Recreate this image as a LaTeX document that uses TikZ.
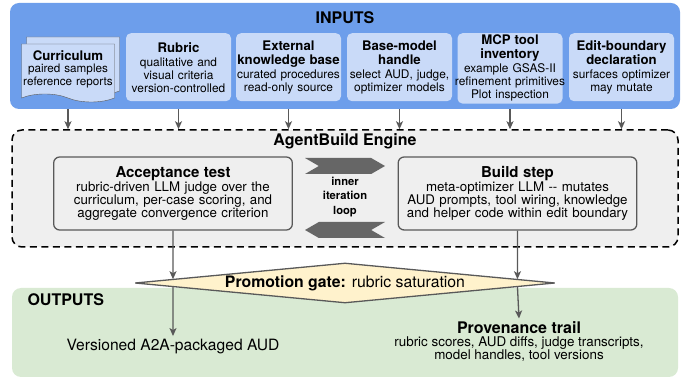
\documentclass[tikz,border=0pt]{standalone}
\usepackage{fontspec}
\setmainfont{TeX Gyre Heros}
\usepackage{tikz}
\usetikzlibrary{arrows.meta,shapes.geometric,shapes.symbols,shadows,calc}
\definecolor{inPanel}{HTML}{6D9EEB}
\definecolor{inCardFill}{HTML}{C9DAF8}
\definecolor{engFill}{HTML}{EFEFEF}
\definecolor{outPanel}{HTML}{D9EAD3}
\definecolor{gateFill}{HTML}{FFF2CC}
\definecolor{wire}{HTML}{595959}
\definecolor{loopGray}{HTML}{666666}
\newcommand{\cardtitle}{\fontsize{13.2}{14}\selectfont\bfseries}

\begin{document}
\begin{tikzpicture}[x=1pt, y=-1pt,
    panelTitle/.style={font=\fontsize{16}{18}\selectfont\bfseries},
    inCard/.style={fill=inCardFill, rounded corners=5pt, align=center, text width=105pt, minimum height=68pt, inner xsep=0pt, inner ysep=2pt, anchor=north, font=\fontsize{11.9}{13}\selectfont},
    docCard/.style={shape=tape, tape bend top=none, tape bend bottom=out and in, tape bend height=8pt, draw=wire, fill=inCardFill, align=center, text width=92pt, minimum height=58pt, inner sep=0.5pt, font=\fontsize{11.7}{12.6}\selectfont, copy shadow={shadow xshift=5pt, shadow yshift=7pt}},
    engCard/.style={draw=wire, fill=engFill, line width=1.3pt, rounded corners=6pt, text width=232pt, minimum height=73pt, align=center, font=\fontsize{13.3}{12.7}\selectfont},
    loopArrow/.style={signal, fill=loopGray, minimum width=80pt, minimum height=16pt, signal pointer angle=60, inner sep=0pt},
    flowArrow/.style={-{Stealth[length=8pt, width=7pt, inset=2pt]}, line width=1.3pt, draw=wire}
]
    \useasboundingbox (0,0) rectangle (694,379);

    % Pannelli
    \node[fill=inPanel, rounded corners=9pt, minimum width=670pt, minimum height=106pt] (inputs) at (345,56) {};
    \node[panelTitle] (inTitle) at (345,18) {INPUTS};
    \node[draw=black, dash pattern=on 7pt off 4.5pt, line width=1.5pt, fill=engFill, rounded corners=10pt, minimum width=666pt, minimum height=117pt] (engine) at (345,188.5) {};
    \node[panelTitle] (engTitle) at (345,141) {AgentBuild Engine};
    \node[fill=outPanel, rounded corners=9pt, minimum width=666pt, minimum height=89pt] (outputs) at (345,332.5) {};
    \node[panelTitle, anchor=west] (outTitle) at (24,300) {OUTPUTS};

    % Input
    \node[docCard] (curric) at (68,69) {{\cardtitle Curriculum}\\ paired samples\\ reference reports};
    \node[inCard] (rubric) at (178.5,33) {{\cardtitle Rubric}\\[1pt] qualitative and\\ visual criteria\\ version-controlled};
    \node[inCard] (extkb) at (288.5,33) {{\cardtitle External\\[1pt] knowledge base}\\[1pt] curated procedures\\ read-only source};
    \node[inCard] (basemodel) at (399.5,33) {{\cardtitle Base-model\\[1pt] handle}\\[1pt] select AUD, judge,\\ optimizer models};
    \node[inCard] (mcp) at (510,33) {{\cardtitle MCP tool\\[1pt] inventory}\\[1pt] example GSAS-II\\ \makebox[105pt][c]{refinement primitives}\\ Plot inspection};
    \node[inCard] (editb) at (621.5,33) {{\cardtitle Edit-boundary\\[1pt] declaration}\\[1pt] surfaces optimizer\\ may mutate};

    \foreach \src in {curric,rubric,extkb,basemodel,mcp,editb}
        \draw[flowArrow] (\src.south |- inputs.south) -- (\src.south |- engine.north);

    % Motore
    \node[engCard] (accept) at (173,193.5) {{\fontsize{15}{14}\selectfont\bfseries Acceptance test}\\ rubric-driven LLM judge over the\\ curriculum, per-case scoring, and\\ aggregate convergence criterion};
    \node[engCard] (build) at (517.5,193.5) {{\fontsize{15}{14}\selectfont\bfseries Build step}\\ meta-optimizer LLM -{}- mutates\\ AUD prompts, tool wiring, knowledge\\ and helper code within edit boundary};
    \node[loopArrow, signal to=east, signal from=west] (loopFwd) at (345,166) {};
    \node[loopArrow, signal to=west, signal from=east] (loopBack) at (345,230) {};
    \node[font=\fontsize{11.2}{14.5}\selectfont\bfseries, align=center] (loopLbl) at (345,197) {inner\\ iteration\\ loop};

    % Gate e output
    \node[draw=wire, fill=gateFill, line width=1.3pt, shape=diamond, aspect=10, minimum width=420pt, minimum height=40pt, inner sep=0pt, font=\fontsize{15.8}{17}\selectfont] (gate) at (345,283) {\textbf{Promotion gate:} rubric saturation};
    \node[font=\fontsize{15.6}{17}\selectfont] (versioned) at (173,347) {Versioned A2A-packaged AUD};
    \node[align=center, font=\fontsize{13.4}{13}\selectfont] (prov) at (519,342) {{\fontsize{16}{16}\selectfont\bfseries Provenance trail}\\ rubric scores, AUD diffs, judge transcripts,\\ model handles, tool versions};

    \coordinate (accMid) at (accept.south |- gate.center);
    \coordinate (bldMid) at (build.south |- gate.center);
    \draw[flowArrow] (accept.south) -- (intersection of accept.south--accMid and gate.west--gate.north);
    \draw[flowArrow] (intersection of accept.south--accMid and gate.west--gate.south) -- (versioned.north);
    \draw[flowArrow] (build.south) -- (intersection of build.south--bldMid and gate.east--gate.north);
    \draw[flowArrow] (intersection of build.south--bldMid and gate.east--gate.south) -- (prov.north);
\end{tikzpicture}
\end{document}
